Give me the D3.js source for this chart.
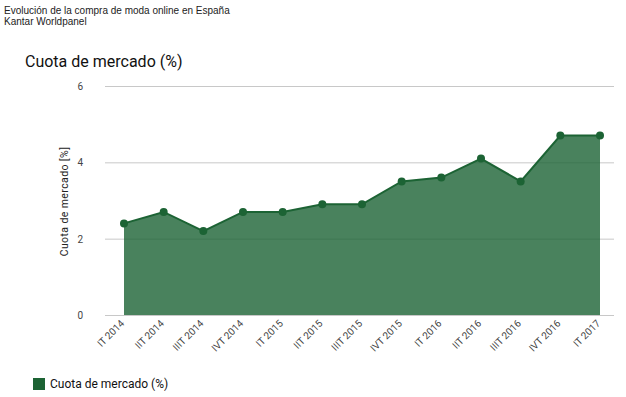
<!DOCTYPE html>
<html>
<head>
<meta charset="utf-8">
<script src="https://cdn.jsdelivr.net/npm/d3@7"></script>
<style>
  body { margin: 0; background: #fff; }
  svg { display: block; }
</style>
</head>
<body>
<svg id="chart" width="626" height="397"></svg>
<script>
// data
var quarters = ["IT 2014", "IIT 2014", "IIIT 2014", "IVT 2014", "IT 2015", "IIT 2015",
  "IIIT 2015", "IVT 2015", "IT 2016", "IIT 2016", "IIIT 2016", "IVT 2016", "IT 2017"];
var cuota = [2.4, 2.7, 2.2, 2.7, 2.7, 2.9, 2.9, 3.5, 3.6, 4.1, 3.5, 4.7, 4.7];
var yTicks = [0, 2, 4, 6];

var svg = d3.select("#chart");
var font = "Roboto, 'Noto Sans', sans-serif";

// header
svg.append("text").attr("x", 4).attr("y", 14)
  .style("font-family", "'Liberation Sans', Arial, sans-serif").style("font-size", "10px")
  .attr("fill", "#222").text("Evolución de la compra de moda online en España");
svg.append("text").attr("x", 4).attr("y", 25)
  .style("font-family", "'Liberation Sans', Arial, sans-serif").style("font-size", "10px")
  .attr("fill", "#222").text("Kantar Worldpanel");

svg.append("text").attr("x", 25).attr("y", 67)
  .style("font-family", font).style("font-size", "16px")
  .attr("fill", "#111").text("Cuota de mercado (%)");

// scales
var x = d3.scalePoint().domain(quarters).range([124, 600]);
var y = d3.scaleLinear().domain([0, 6]).range([315, 86]);

// grid
svg.append("g").selectAll("line").data(yTicks).enter().append("line")
  .attr("x1", 105).attr("x2", 614)
  .attr("y1", d => y(d) + 0.5).attr("y2", d => y(d) + 0.5)
  .attr("stroke", "#c8c8c8").attr("stroke-width", 1);

svg.append("g").selectAll("text").data(yTicks).enter().append("text")
  .attr("x", 83).attr("y", d => y(d) + 4)
  .attr("text-anchor", "end")
  .style("font-family", font).style("font-size", "10px")
  .attr("fill", "#444").text(d => d);

svg.append("text")
  .attr("transform", "translate(68," + (y(3) + 1) + ") rotate(-90)")
  .attr("text-anchor", "middle")
  .style("font-family", font).style("font-size", "10.5px")
  .style("letter-spacing", "0.4px")
  .attr("fill", "#222").text("Cuota de mercado [%]");

// area
var area = d3.area()
  .x((d, i) => x(quarters[i]))
  .y0(y(0))
  .y1(d => y(d));
var line = d3.line()
  .x((d, i) => x(quarters[i]))
  .y(d => y(d));

svg.append("path").datum(cuota)
  .attr("d", area)
  .attr("fill", "#1c6334")
  .attr("fill-opacity", 0.8);

svg.append("path").datum(cuota)
  .attr("d", line)
  .attr("fill", "none")
  .attr("stroke", "#1c6334")
  .attr("stroke-width", 2);

svg.append("g").selectAll("circle").data(cuota).enter().append("circle")
  .attr("cx", (d, i) => x(quarters[i]))
  .attr("cy", d => y(d))
  .attr("r", 4)
  .attr("fill", "#1c6334");

// x labels
svg.append("g").selectAll("text").data(quarters).enter().append("text")
  .attr("transform", d => "translate(" + (x(d) + 1) + ",324) rotate(-45)")
  .attr("text-anchor", "end")
  .style("font-family", font).style("font-size", "10px")
  .attr("fill", "#444").text(d => d);

// legend
svg.append("rect").attr("x", 33).attr("y", 378).attr("width", 12).attr("height", 12)
  .attr("fill", "#1c6334");
svg.append("text").attr("x", 50).attr("y", 388)
  .style("font-family", font).style("font-size", "12px")
  .attr("fill", "#111").text("Cuota de mercado (%)");
</script>
</body>
</html>
